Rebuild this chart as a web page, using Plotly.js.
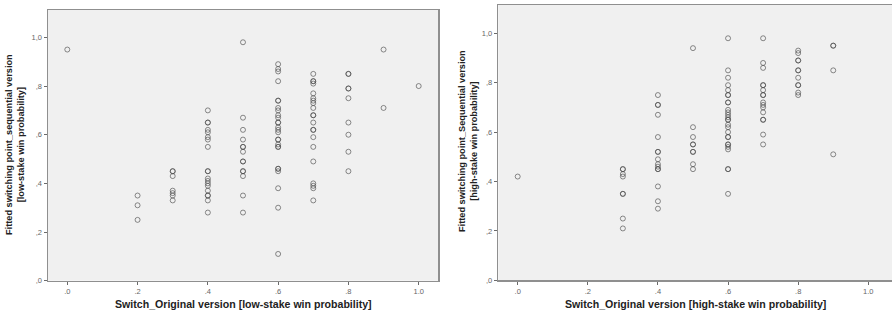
<!DOCTYPE html>
<html><head><meta charset="utf-8">
<script src="https://cdn.plot.ly/plotly-3.0.1.min.js"></script>
<style>html,body{margin:0;padding:0;background:#fff}#c{width:892px;height:314px}</style>
</head><body><div id="c"></div>
<script>
// Low-stake panel: x = original-version switch, y = fitted sequential switching point
const lowX = [
  0.0,
  0.2,0.2,0.2,
  0.3,0.3,0.3,0.3,0.3,0.3,0.3,
  0.4,0.4,0.4,0.4,0.4,0.4,0.4,0.4,0.4,0.4,0.4,0.4,0.4,0.4,0.4,0.4,0.4,0.4,0.4,
  0.5,0.5,0.5,0.5,0.5,0.5,0.5,0.5,0.5,0.5,0.5,0.5,0.5,0.5,
  0.6,0.6,0.6,0.6,0.6,0.6,0.6,0.6,0.6,0.6,0.6,0.6,0.6,0.6,0.6,0.6,0.6,0.6,0.6,0.6,0.6,0.6,0.6,0.6,0.6,0.6,
  0.7,0.7,0.7,0.7,0.7,0.7,0.7,0.7,0.7,0.7,0.7,0.7,0.7,0.7,0.7,0.7,0.7,0.7,0.7,0.7,0.7,
  0.8,0.8,0.8,0.8,0.8,0.8,0.8,0.8,0.8,
  0.9,0.9,
  1.0
];
const lowY = [
  0.95,
  0.35,0.31,0.25,
  0.45,0.45,0.43,0.37,0.36,0.35,0.33,
  0.70,0.65,0.65,0.62,0.61,0.59,0.58,0.55,0.45,0.45,0.42,0.41,0.40,0.39,0.37,0.35,0.35,0.33,0.28,
  0.98,0.67,0.62,0.58,0.55,0.55,0.53,0.49,0.49,0.45,0.45,0.43,0.35,0.28,
  0.89,0.87,0.86,0.82,0.74,0.74,0.71,0.70,0.68,0.67,0.65,0.65,0.63,0.62,0.61,0.58,0.58,0.56,0.55,0.55,0.46,0.46,0.45,0.38,0.30,0.11,
  0.85,0.82,0.82,0.81,0.77,0.75,0.74,0.73,0.71,0.68,0.68,0.65,0.62,0.62,0.59,0.55,0.49,0.40,0.39,0.38,0.33,
  0.85,0.85,0.79,0.79,0.75,0.65,0.60,0.53,0.45,
  0.95,0.71,
  0.80
];
// High-stake panel
const highX = [
  0.0,
  0.3,0.3,0.3,0.3,0.3,0.3,0.3,0.3,
  0.4,0.4,0.4,0.4,0.4,0.4,0.4,0.4,0.4,0.4,0.4,0.4,0.4,0.4,0.4,
  0.5,0.5,0.5,0.5,0.5,0.5,0.5,0.5,0.5,
  0.6,0.6,0.6,0.6,0.6,0.6,0.6,0.6,0.6,0.6,0.6,0.6,0.6,0.6,0.6,0.6,0.6,0.6,0.6,0.6,0.6,0.6,0.6,0.6,0.6,0.6,0.6,
  0.7,0.7,0.7,0.7,0.7,0.7,0.7,0.7,0.7,0.7,0.7,0.7,0.7,0.7,0.7,0.7,
  0.8,0.8,0.8,0.8,0.8,0.8,0.8,0.8,0.8,0.8,0.8,
  0.9,0.9,0.9,0.9
];
const highY = [
  0.42,
  0.45,0.45,0.43,0.42,0.35,0.35,0.25,0.21,
  0.75,0.71,0.71,0.67,0.58,0.52,0.52,0.49,0.47,0.46,0.45,0.45,0.38,0.32,0.29,
  0.94,0.62,0.58,0.55,0.55,0.52,0.52,0.47,0.45,
  0.98,0.85,0.82,0.79,0.77,0.75,0.75,0.72,0.72,0.69,0.68,0.67,0.66,0.65,0.65,0.63,0.62,0.60,0.58,0.58,0.55,0.55,0.54,0.53,0.45,0.45,0.35,
  0.98,0.88,0.86,0.79,0.79,0.77,0.75,0.75,0.72,0.71,0.70,0.68,0.65,0.65,0.59,0.55,
  0.93,0.92,0.89,0.89,0.85,0.85,0.82,0.79,0.79,0.76,0.75,
  0.95,0.95,0.85,0.51
];
const xTickVals = [0,0.2,0.4,0.6,0.8,1.0];
const xTickText = ['.0','.2','.4','.6','.8','1.0'];
const yTickVals = [0,0.2,0.4,0.6,0.8,1.0];
const yTickText = [',0',',2',',4',',6',',8','1,0'];

const W = 892, H = 314;
const marker = {symbol:'circle-open', size:5, color:'rgba(70,70,70,0.62)', line:{width:1}};
const traces = [
  {x:lowX, y:lowY, type:'scatter', mode:'markers', marker:marker, xaxis:'x', yaxis:'y', hoverinfo:'x+y'},
  {x:highX, y:highY, type:'scatter', mode:'markers', marker:marker, xaxis:'x2', yaxis:'y2', hoverinfo:'x+y'}
];
const axBase = {
  showgrid:false, zeroline:false, showline:true, mirror:true,
  linecolor:'#8f8f8f', linewidth:1.5,
  ticks:'outside', ticklen:3, tickwidth:1, tickcolor:'#6a6a6a',
  tickfont:{family:'Liberation Sans, Arial, sans-serif', size:7.5, color:'#666'},
  fixedrange:true
};
const xAx = (dom, rng, anchor) => Object.assign({}, axBase, {
  domain:dom, range:rng, anchor:anchor, tickvals:xTickVals, ticktext:xTickText, ticklabelstandoff:0
});
const yAx = (dom, rng, anchor) => Object.assign({}, axBase, {
  domain:dom, range:rng, anchor:anchor, tickvals:yTickVals, ticktext:yTickText
});
const xTitleFont = {family:'Liberation Sans, Arial, sans-serif', size:10.6, color:'#222', weight:'bold'};
const yTitleFont = {family:'Liberation Sans, Arial, sans-serif', size:9.2, color:'#222', weight:'bold'};
const layout = {
  width:W, height:H, margin:{l:0,r:0,t:0,b:0},
  paper_bgcolor:'#ffffff', plot_bgcolor:'#f0f0f0', showlegend:false,
  xaxis:  xAx([48/W, 438.3/W], [-0.0549, 1.0558], 'y'),
  yaxis:  yAx([(H-280.7)/H, (H-10)/H], [0, 1.1126], 'x'),
  xaxis2: xAx([498.3/W, 1], [-0.0553, 1.0676], 'y2'),
  yaxis2: yAx([(H-280.3)/H, (H-5)/H], [0, 1.1146], 'x2'),
  annotations: [
    {text:'<b>Switch_Original version [low-stake win probability]</b>', xref:'paper', yref:'paper',
     x:243/W, y:(H-304)/H, xanchor:'center', yanchor:'middle', showarrow:false, font:xTitleFont},
    {text:'<b>Switch_Original version [high-stake win probability]</b>', xref:'paper', yref:'paper',
     x:(446+249)/W, y:(H-304)/H, xanchor:'center', yanchor:'middle', showarrow:false, font:xTitleFont},
    {text:'<b>Fitted switching point_sequential version<br>[low-stake win probability]</b>', xref:'paper', yref:'paper',
     x:15/W, y:(H-145)/H, xanchor:'center', yanchor:'middle', showarrow:false, textangle:-90, font:yTitleFont},
    {text:'<b>Fitted switching point_Sequential version<br>[high-stake win probability]</b>', xref:'paper', yref:'paper',
     x:468/W, y:(H-141)/H, xanchor:'center', yanchor:'middle', showarrow:false, textangle:-90, font:yTitleFont}
  ]
};
Plotly.newPlot('c', traces, layout, {displayModeBar:false, staticPlot:true});
</script></body></html>
